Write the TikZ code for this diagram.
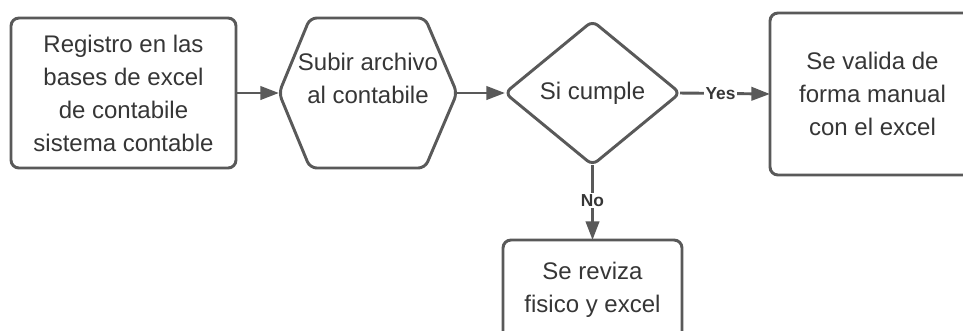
\documentclass[tikz,border=0pt]{standalone}
\usepackage{fontspec}
\setmainfont{Liberation Sans}
\usetikzlibrary{arrows.meta,shapes.geometric,calc}
\definecolor{linec}{HTML}{595959}
\definecolor{textc}{HTML}{363636}
\begin{document}
\begin{tikzpicture}[x=0.75pt,y=-0.75pt,
  every node/.style={outer sep=0pt, inner sep=0pt, text=textc},
  bodytext/.style={align=center, font=\fontsize{18}{24.75}\selectfont},
  boxshape/.style={bodytext, draw=linec, line width=2.2pt, rounded corners=6pt},
  arr/.style={draw=linec, line width=2.2pt, -{Triangle[length=14pt,width=10pt]}},
  lab/.style={fill=white, font=\bfseries\fontsize{13}{15}\selectfont, inner sep=1pt},
]
\useasboundingbox (0,0) rectangle (963,330);
\clip (0,0) rectangle (963,330);
\fill[white] (0,0) rectangle (963,330);

\node[boxshape, minimum width=168.75pt, minimum height=112.5pt] (reg) at (123.5,93)
  {Registro en las\\bases de excel\\de contabile\\sistema contable};

\node[bodytext, minimum width=133.5pt, minimum height=112.5pt] (sub) at (368,93)
  {Subir archivo\\al contabile\\[-3pt]};
\draw[linec, line width=2.2pt, rounded corners=5pt]
  (sub.west) -- ($(sub.north west)+(31,0)$) -- ($(sub.north east)+(-32,0)$)
  -- (sub.east) -- ($(sub.south east)+(-32,0)$) -- ($(sub.south west)+(31,0)$) -- cycle;

\node[diamond, bodytext, draw=linec, line width=2.2pt, rounded corners=5pt,
  minimum width=131.25pt, minimum height=108pt, aspect=1.215] (dec) at (592.5,93)
  {Si cumple};

\node[boxshape, minimum width=153.75pt, minimum height=121.5pt] (val) at (872.5,94)
  {Se valida de\\forma manual\\con el excel};

\node[boxshape, minimum width=134.25pt, minimum height=75pt] (rev) at (592.5,290)
  {Se reviza\\fisico y excel};

\draw[arr] (reg.east) -- (sub.west);
\draw[arr] (sub.east) -- (dec.west);
\draw[arr] (dec.east) -- node[lab, pos=0.45] {Yes} (val.west);
\draw[arr] (dec.south) -- node[lab, pos=0.47] {No} (rev.north);
\end{tikzpicture}
\end{document}
